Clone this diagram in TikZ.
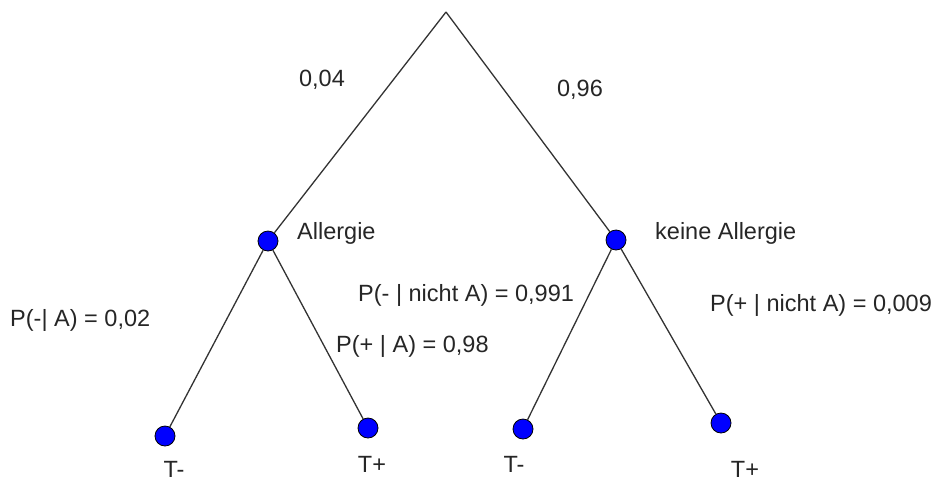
\documentclass[tikz,border=0pt]{standalone}
\usepackage{fontspec}
\setmainfont{Liberation Sans}
\begin{document}
\begin{tikzpicture}[x=1pt,y=-1pt,
  branch/.style={draw=black!80, line width=1.3pt},
  leaf/.style={circle, fill=blue, draw=black, line width=0.8pt, minimum size=20pt, inner sep=0pt},
  lbl/.style={inner sep=0pt, font=\fontsize{23.5}{27}\selectfont, text=black!85}]
\useasboundingbox (0,0) rectangle (936,483);
\coordinate (root) at (446,12);
\node[leaf] (A) at (268,241) {};
\node[leaf] (nA) at (616,240) {};
\node[leaf] (L1) at (165,436) {};
\node[leaf] (L2) at (368,428) {};
\node[leaf] (L3) at (523,429) {};
\node[leaf] (L4) at (721,423) {};
\draw[branch] (root) -- (A);
\draw[branch] (root) -- (nA);
\draw[branch] (A) -- (L1);
\draw[branch] (A) -- (L2);
\draw[branch] (nA) -- (L3);
\draw[branch] (nA) -- (L4);
\node[lbl] (p1) at (322,80) {0,04};
\node[lbl] (p2) at (580,90) {0,96};
\node[lbl, anchor=west] (tA) at (297,233) {Allergie};
\node[lbl, anchor=west] (tnA) at (655,233) {keine Allergie};
\node[lbl, anchor=west] (q1) at (10,320) {P(-| A) = 0,02};
\node[lbl, anchor=west] (q2) at (336,346) {P(+ | A) = 0,98};
\node[lbl, anchor=west] (q3) at (358,295) {P(- | nicht A) = 0,991};
\node[lbl, anchor=west] (q4) at (710,305) {P(+ | nicht A) = 0,009};
\node[lbl] (t1) at (174,469) {T-};
\node[lbl] (t2) at (372,464) {T+};
\node[lbl] (t3) at (514,464) {T-};
\node[lbl] (t4) at (745,469) {T+};
\end{tikzpicture}
\end{document}
